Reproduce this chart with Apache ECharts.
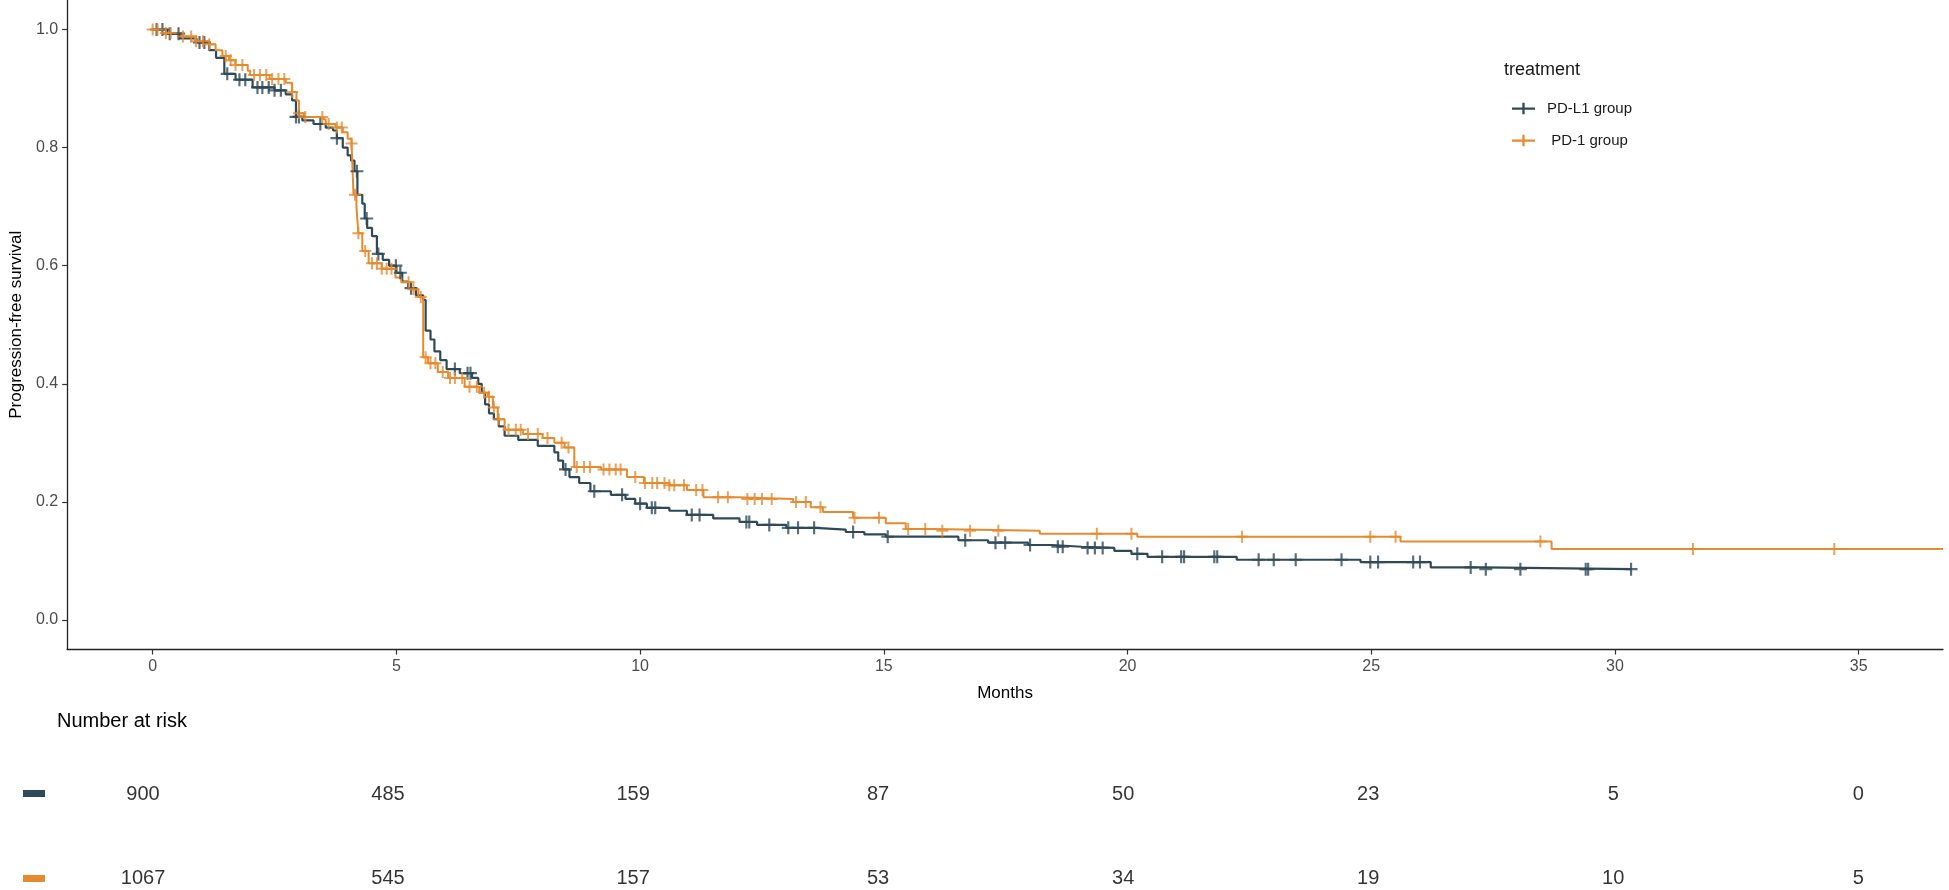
<!DOCTYPE html>
<html>
<head>
<meta charset="utf-8">
<script src="https://cdn.jsdelivr.net/npm/echarts@6/dist/echarts.min.js"></script>
<style>
  html, body { margin: 0; padding: 0; background: #fff; }
  #main { width: 1949px; height: 890px; }
</style>
</head>
<body>
<div id="main"></div>
<script>
// tick labels and risk table
var months = [0, 5, 10, 15, 20, 25, 30, 35];
var survTicks = [0, 0.2, 0.4, 0.6, 0.8, 1.0];
var riskPDL1 = [900, 485, 159, 87, 50, 23, 5, 0];
var riskPD1 = [1067, 545, 157, 53, 34, 19, 10, 5];

// KM steps: [month, survival]
var pdl1Steps = [
  [0, 1.0], [0.3, 0.993], [0.55, 0.985], [0.9, 0.978], [1.16, 0.965], [1.3, 0.952], [1.47, 0.925],
  [1.7, 0.915], [2.05, 0.902], [2.5, 0.897], [2.73, 0.89], [2.86, 0.88], [2.94, 0.852], [3.07, 0.846],
  [3.3, 0.84], [3.55, 0.834], [3.7, 0.829], [3.78, 0.816], [3.9, 0.8], [4.0, 0.787], [4.07, 0.778],
  [4.14, 0.76], [4.2, 0.72], [4.3, 0.705], [4.35, 0.68], [4.4, 0.664], [4.5, 0.65], [4.6, 0.62],
  [4.72, 0.61], [4.85, 0.6], [5.0, 0.588], [5.12, 0.573], [5.24, 0.562], [5.4, 0.55], [5.55, 0.542],
  [5.6, 0.49], [5.7, 0.475], [5.78, 0.455], [5.9, 0.44], [6.03, 0.425], [6.3, 0.418], [6.55, 0.41],
  [6.68, 0.4], [6.75, 0.385], [6.82, 0.365], [6.9, 0.35], [7.0, 0.34], [7.1, 0.328], [7.22, 0.312],
  [7.5, 0.305], [7.9, 0.295], [8.24, 0.284], [8.32, 0.27], [8.42, 0.255], [8.55, 0.242], [8.75, 0.232],
  [8.98, 0.218], [9.4, 0.212], [9.7, 0.205], [9.9, 0.197], [10.14, 0.19], [10.6, 0.185], [10.96, 0.178],
  [11.5, 0.172], [12.04, 0.166], [12.4, 0.161], [13.0, 0.156], [13.6, 0.153], [14.22, 0.149],
  [14.6, 0.145], [15.04, 0.141], [16.53, 0.135], [17.14, 0.131], [17.96, 0.127], [18.45, 0.124],
  [19.06, 0.122], [19.73, 0.117], [20.08, 0.112], [20.41, 0.107], [22.24, 0.102], [24.78, 0.098],
  [26.22, 0.089], [27.3, 0.086], [30.35, 0.086]
];
var pd1Steps = [
  [0, 1.0], [0.27, 0.994], [0.6, 0.988], [0.87, 0.98], [1.16, 0.975], [1.29, 0.965], [1.43, 0.955],
  [1.57, 0.948], [1.7, 0.94], [1.95, 0.93], [2.0, 0.923], [2.4, 0.916], [2.73, 0.91], [2.86, 0.894],
  [2.95, 0.88], [3.0, 0.858], [3.1, 0.852], [3.5, 0.848], [3.55, 0.84], [3.75, 0.834], [3.9, 0.826],
  [4.0, 0.815], [4.08, 0.807], [4.12, 0.72], [4.18, 0.7], [4.22, 0.655], [4.3, 0.625], [4.43, 0.604],
  [4.7, 0.595], [4.98, 0.58], [5.1, 0.572], [5.3, 0.56], [5.45, 0.547], [5.55, 0.445], [5.65, 0.435],
  [5.85, 0.42], [6.06, 0.41], [6.4, 0.395], [6.7, 0.385], [6.88, 0.378], [6.98, 0.36], [7.08, 0.34],
  [7.22, 0.322], [7.6, 0.315], [8.0, 0.308], [8.24, 0.3], [8.45, 0.292], [8.65, 0.259], [9.2, 0.255],
  [9.73, 0.242], [10.08, 0.232], [10.6, 0.228], [10.96, 0.22], [11.3, 0.208], [12.0, 0.205],
  [13.14, 0.2], [13.5, 0.191], [13.75, 0.183], [14.37, 0.173], [15.04, 0.164], [15.45, 0.154],
  [16.0, 0.151], [18.2, 0.146], [20.2, 0.141], [25.6, 0.133], [28.7, 0.12], [36.73, 0.12]
];

// censoring times (months)
var pdl1Censor = [0.08, 0.2, 0.35, 0.53, 0.96, 1.06, 1.53, 1.78, 1.9, 2.15, 2.25, 2.38, 2.5, 2.63, 2.94, 3.0,
  3.44, 3.78, 4.19, 4.39, 4.63, 4.99, 5.08, 5.3, 6.2, 6.46, 6.52, 8.47, 9.06, 9.63, 10.0, 10.24, 10.31,
  11.06, 11.22, 12.18, 12.24, 12.65, 13.04, 13.24, 13.57, 14.37, 15.08, 16.67, 17.29, 17.49, 18.0,
  18.57, 18.67, 19.18, 19.33, 19.49, 20.2, 20.71, 21.1, 21.16, 21.78, 21.84, 22.69, 23.0, 23.45, 24.39,
  24.98, 25.14, 25.86, 26.0, 27.04, 27.35, 28.06, 29.4, 29.45, 30.33];
var pd1Censor = [0.0, 0.1, 0.27, 0.37, 0.62, 0.79, 0.89, 1.03, 1.16, 1.5, 1.6, 1.7, 1.84, 2.08, 2.2, 2.33,
  2.45, 2.58, 2.7, 2.86, 3.0, 3.13, 3.48, 3.61, 3.78, 3.88, 4.08, 4.15, 4.22, 4.36, 4.5, 4.6, 4.7, 4.8,
  4.9, 5.25, 5.35, 5.5, 5.6, 5.7, 5.8, 5.95, 6.1, 6.2, 6.35, 6.5, 6.65, 6.8, 6.9, 7.0, 7.1, 7.3, 7.45,
  7.55, 7.7, 7.9, 8.1, 8.39, 8.53, 8.7, 8.85, 8.97, 9.25, 9.37, 9.5, 9.6, 9.9, 10.1, 10.25, 10.35, 10.5,
  10.6, 10.7, 10.9, 11.15, 11.28, 11.6, 11.8, 12.2, 12.35, 12.5, 12.7, 13.2, 13.4, 13.7, 14.4, 14.9,
  15.5, 15.85, 16.2, 16.77, 17.35, 19.37, 20.08, 22.35, 24.98, 25.5, 28.47, 31.6, 34.5];

var navy = '#2E4A59';
var orange = '#E68A2E';
var fontFam = '"Liberation Sans", Arial, sans-serif';
var plus = 'path://M5,0 L7,0 L7,5 L12,5 L12,7 L7,7 L7,12 L5,12 L5,7 L0,7 L0,5 L5,5 Z';
var legendIcon = 'path://M0,5 L24,5 L24,7.4 L0,7.4 Z M10.8,0 L13.2,0 L13.2,12 L10.8,12 Z';

// survival value of a step curve at time t
function survAt(steps, t) {
	var s = steps[0][1];
	for (var i = 0; i < steps.length; i++) {
		if (steps[i][0] <= t) s = steps[i][1];
	}
	return s;
}
function censorPoints(steps, times) {
	return times.map(function(t) { return [t, survAt(steps, t)]; });
}
function riskRow(vals, row) {
	return vals.map(function(v, i) { return [months[i], row, v]; });
}

var xMin = -1.755, xMax = 36.73;

var chart = echarts.init(document.getElementById('main'));
var option = {
	backgroundColor: '#fff',
	animation: false,
	textStyle: { fontFamily: fontFam },
	grid: [
		{ left: 57, right: 6, top: 0, bottom: 240.5 },
		{ left: 57, right: 6, top: 794, height: 84 }
	],
	legend: {
		orient: 'vertical',
		left: 1507,
		top: 96,
		itemWidth: 23,
		itemHeight: 13,
		itemGap: 17,
		icon: legendIcon,
		data: ['PD-L1 group', ' PD-1 group'],
		textStyle: { fontSize: 15, color: '#1a1a1a', fontFamily: fontFam, padding: [0, 0, 0, 7] }
	},
	xAxis: [{
		type: 'value',
		gridIndex: 0,
		min: xMin,
		max: xMax,
		name: 'Months',
		nameLocation: 'middle',
		nameGap: 35,
		nameTextStyle: { fontSize: 17, color: '#000', fontFamily: fontFam },
		axisLine: { onZero: false, lineStyle: { color: '#222', width: 1.3 } },
		axisTick: { length: 5, lineStyle: { color: '#333', width: 1.2 }, customValues: months },
		axisLabel: { fontSize: 16, color: '#4d4d4d', margin: 9, customValues: months, fontFamily: fontFam },
		splitLine: { show: false }
	}, {
		type: 'value',
		gridIndex: 1,
		min: xMin,
		max: xMax,
		show: false
	}],
	yAxis: [{
		type: 'value',
		gridIndex: 0,
		min: -0.05,
		max: 1.05,
		name: 'Progression-free survival',
		nameLocation: 'middle',
		nameGap: 42,
		nameTextStyle: { fontSize: 17, color: '#000', fontFamily: fontFam },
		axisLine: { show: true, onZero: false, lineStyle: { color: '#222', width: 1.3 } },
		axisTick: { show: true, length: 5, lineStyle: { color: '#333', width: 1.2 }, customValues: survTicks },
		axisLabel: {
			fontSize: 16, color: '#4d4d4d', margin: 9, customValues: survTicks, fontFamily: fontFam,
			formatter: function(v) { return v.toFixed(1); }
		},
		splitLine: { show: false }
	}, {
		type: 'value',
		gridIndex: 1,
		min: 0,
		max: 1,
		show: false
	}],
	graphic: [
		{ type: 'text', left: 1504, top: 61, style: { text: 'treatment', fontSize: 18, fill: '#1a1a1a', fontFamily: fontFam } },
		{ type: 'text', left: 57, top: 711, style: { text: 'Number at risk', fontSize: 20, fill: '#000', fontFamily: fontFam } },
		{ type: 'rect', shape: { x: 23, y: 790, width: 22, height: 7 }, style: { fill: navy } },
		{ type: 'rect', shape: { x: 23, y: 875, width: 22, height: 7 }, style: { fill: orange } }
	],
	series: [
		{
			name: 'PD-L1 group', type: 'line', step: 'end', xAxisIndex: 0, yAxisIndex: 0,
			data: pdl1Steps, showSymbol: false, symbol: 'none', color: navy,
			lineStyle: { color: navy, width: 2.2 }, z: 2
		},
		{
			name: ' PD-1 group', type: 'line', step: 'end', xAxisIndex: 0, yAxisIndex: 0,
			data: pd1Steps, showSymbol: false, symbol: 'none', color: orange,
			lineStyle: { color: orange, width: 2 }, z: 3
		},
		{
			name: 'PD-L1 group', type: 'scatter', xAxisIndex: 0, yAxisIndex: 0,
			data: censorPoints(pdl1Steps, pdl1Censor), symbol: plus, symbolSize: 13,
			itemStyle: { color: navy }, z: 4
		},
		{
			name: ' PD-1 group', type: 'scatter', xAxisIndex: 0, yAxisIndex: 0,
			data: censorPoints(pd1Steps, pd1Censor), symbol: plus, symbolSize: 12,
			itemStyle: { color: orange }, z: 5
		},
		{
			name: 'riskPDL1', type: 'scatter', xAxisIndex: 1, yAxisIndex: 1,
			data: riskRow(riskPDL1, 1), symbolSize: 0,
			label: {
				show: true, position: 'inside', fontSize: 20, color: '#000', fontFamily: fontFam,
				formatter: function(p) { return p.value[2]; }
			}
		},
		{
			name: 'riskPD1', type: 'scatter', xAxisIndex: 1, yAxisIndex: 1,
			data: riskRow(riskPD1, 0), symbolSize: 0,
			label: {
				show: true, position: 'inside', fontSize: 20, color: '#000', fontFamily: fontFam,
				formatter: function(p) { return p.value[2]; }
			}
		}
	]
};
chart.setOption(option);
</script>
</body>
</html>
